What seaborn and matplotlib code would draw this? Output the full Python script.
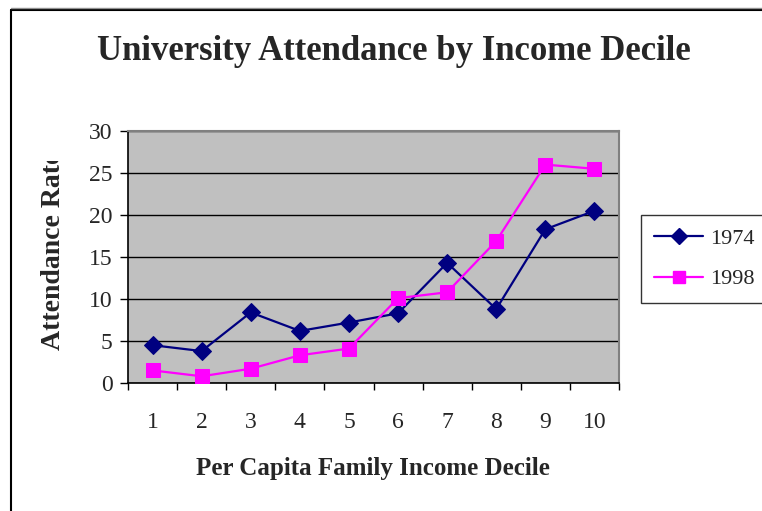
import numpy as np
import pandas as pd
import matplotlib
matplotlib.use("Agg")
import matplotlib.pyplot as plt
import seaborn as sns
from matplotlib.lines import Line2D
from matplotlib.transforms import Bbox, TransformedBbox

# ---- data ----
deciles = [1, 2, 3, 4, 5, 6, 7, 8, 9, 10]
rate_1974 = [4.5, 3.8, 8.4, 6.2, 7.2, 8.3, 14.3, 8.8, 18.3, 20.5]
rate_1998 = [1.5, 0.8, 1.7, 3.3, 4.1, 10.1, 10.8, 16.9, 26.0, 25.5]
series_names = ["1974", "1998"]
y_ticks = [0, 5, 10, 15, 20, 25, 30]

title = "University Attendance by Income Decile"
xlabel = "Per Capita Family Income Decile"
ylabel = "Attendance Rate"

df = pd.DataFrame({
    "Decile": deciles * 2,
    "Rate": rate_1974 + rate_1998,
    "Year": [series_names[0]] * len(deciles) + [series_names[1]] * len(deciles),
})

sns.set_style("white")
serif = ["Liberation Serif", "DejaVu Serif"]
plt.rcParams["font.family"] = serif

W, H = 762, 511
fig = plt.figure(figsize=(W / 100, H / 100), dpi=100)
fig.patch.set_facecolor("white")

L, R, T, B = 128, 619, 131, 383
ax = fig.add_axes([L / W, 1 - B / H, (R - L) / W, (B - T) / H])
ax.set_facecolor("#C0C0C0")

colors = {"1974": "#000080", "1998": "#FF00FF"}
markers = {"1974": "D", "1998": "s"}
sizes = {"1974": 9, "1998": 10}
for name in series_names:
    sub = df[df["Year"] == name]
    sns.lineplot(data=sub, x="Decile", y="Rate", ax=ax, color=colors[name],
                 marker=markers[name], markersize=sizes[name],
                 markeredgecolor=colors[name], linewidth=1.6, legend=False,
                 zorder=3)

ax.set_xlim(deciles[0] - 0.5, deciles[-1] + 0.5)
ax.set_ylim(y_ticks[0], y_ticks[-1])
ax.set_yticks(y_ticks)
ax.set_xticks(deciles)
ax.set_xticks(list(np.array(deciles) - 0.5) + [deciles[-1] + 0.5], minor=True)
ax.grid(axis="y", color="black", linewidth=1.0)
ax.set_axisbelow(True)

ax.tick_params(axis="y", which="major", direction="out", length=6, width=1,
               color="black", pad=5, labelsize=17, left=True)
ax.tick_params(axis="x", which="major", length=0, pad=21, labelsize=17)
ax.tick_params(axis="x", which="minor", direction="out", length=5, width=1,
               color="black", bottom=True)
for lab in ax.get_xticklabels() + ax.get_yticklabels():
    lab.set_family(serif)

for s in ["top", "right"]:
    ax.spines[s].set_color("#808080")
    ax.spines[s].set_linewidth(1.5)
for s in ["left", "bottom"]:
    ax.spines[s].set_color("black")
    ax.spines[s].set_linewidth(1.2)
ax.set_xlabel("")
ax.set_ylabel("")

# titles
fig.text(394 / W, 1 - 52 / H, title, ha="center", va="center",
         fontsize=25, fontweight="bold", family=serif)
fig.text(373 / W, 1 - 468 / H, xlabel, ha="center", va="center",
         fontsize=18, fontweight="bold", family=serif)
yl = fig.text(54 / W, 1 - 350 / H, ylabel, ha="center", va="bottom",
              rotation=90, fontsize=20, fontweight="bold", family=serif)
yl.set_clip_box(TransformedBbox(Bbox([[0, 0], [1, 1 - 161 / H]]), fig.transFigure))
yl.set_clip_on(True)

# legend
handles = [Line2D([], [], color=colors[n], marker=markers[n],
                  markersize=sizes[n] - 1, linewidth=1.6) for n in series_names]
leg = fig.legend(handles, series_names, loc="upper left",
                 bbox_to_anchor=(641 / W, 1 - 215 / H), frameon=True,
                 handlelength=2.2, handletextpad=0.3,
                 borderpad=0.6, borderaxespad=0, labelspacing=0.9, fancybox=False,
                 prop={"family": serif, "size": 16})
leg.get_frame().set_edgecolor("black")
leg.get_frame().set_linewidth(1.0)

# outer chart frame (extends beyond image right/bottom)
fig.add_artist(Line2D([11 / W, 11 / W], [0, 1 - 10 / H], color="black",
                      linewidth=1.5, transform=fig.transFigure))
fig.add_artist(Line2D([11 / W, 1], [1 - 10 / H, 1 - 10 / H], color="black",
                      linewidth=1.5, transform=fig.transFigure))
fig.add_artist(Line2D([11 / W, 1], [1 - 8 / H, 1 - 8 / H], color="#909090",
                      linewidth=1.0, transform=fig.transFigure))

fig.savefig("out.png", dpi=100)
